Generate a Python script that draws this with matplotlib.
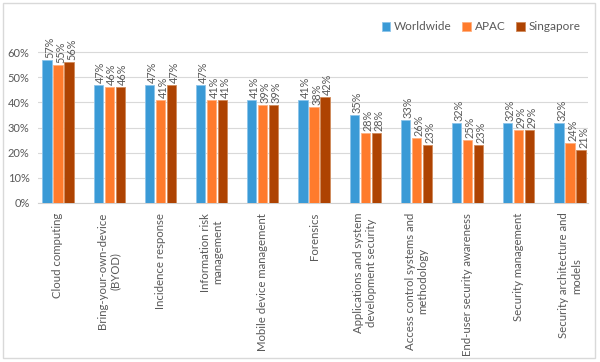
import matplotlib
matplotlib.use('Agg')
import numpy as np
import matplotlib.pyplot as plt
from matplotlib.patches import Rectangle
from matplotlib.ticker import FuncFormatter

plt.rcParams['font.family'] = ['Lato', 'DejaVu Sans']

# data
categories = [
    'Cloud computing',
    'Bring-your-own-device\n(BYOD)',
    'Incidence response',
    'Information risk\nmanagement',
    'Mobile device management',
    'Forensics',
    'Applications and system\ndevelopment security',
    'Access control systems and\nmethodology',
    'End-user security awareness',
    'Security management',
    'Security architecture and\nmodels',
]
worldwide = [57, 47, 47, 47, 41, 41, 35, 33, 32, 32, 32]
apac = [55, 46, 41, 41, 39, 38, 28, 26, 25, 29, 24]
singapore = [56, 46, 47, 41, 39, 42, 28, 23, 23, 29, 21]
series_names = ['Worldwide', 'APAC', 'Singapore']
colors = ['#3A9AD6', '#FF7B2C', '#AE4302']
edges = ['#8CC4EA', '#FFB07F', '#D08A5A']

fig = plt.figure(figsize=(6, 3.62), dpi=100)
ax = fig.add_axes([38 / 600, 1 - 203 / 362, 550 / 600, (203 - 27) / 362])

x = np.arange(len(categories))
step = 0.215
width = 0.18
txt = '#595959'
for i, (name, vals) in enumerate(zip(series_names, [worldwide, apac, singapore])):
    pos = x + (i - 1) * step
    ax.bar(pos, vals, width, color=colors[i], edgecolor=edges[i],
           linewidth=0.6, label=name, zorder=3)
    for px, v in zip(pos, vals):
        ax.text(px + 0.05, v + 0.8, f'{v}%', rotation=90, ha='center', va='bottom',
                fontsize=7.8, color=txt, clip_on=False)

ax.set_ylim(0, 70)
ax.set_yticks(range(0, 61, 10))
ax.yaxis.set_major_formatter(FuncFormatter(lambda v, p: f'{int(v)}%'))
ax.set_xlim(-0.39, 10.35)
ax.set_xticks(x)
ax.set_xticklabels(categories, rotation=90, ha='center', va='top',
                   multialignment='center', fontsize=8.2, color=txt)
ax.tick_params(axis='y', length=0, labelsize=8, labelcolor=txt, pad=6)
ax.tick_params(axis='x', length=0, pad=7)
ax.grid(axis='y', color='#D9D9D9', linewidth=0.8, zorder=0)
for s in ['top', 'right', 'left']:
    ax.spines[s].set_visible(False)
ax.spines['bottom'].set_color('#D0D0D0')

ax.legend(loc='center', bbox_to_anchor=(481 / 600, 1 - 27 / 362),
          bbox_transform=fig.transFigure, ncol=3, frameon=False,
          fontsize=8.5, handlelength=0.75, handleheight=0.75, handletextpad=0.3,
          columnspacing=0.9, labelcolor=txt)

fig.patches.append(Rectangle((3 / 600, 1 - 358 / 362), 592 / 600, 355 / 362,
                             transform=fig.transFigure, fill=False,
                             edgecolor='#D9D9D9', linewidth=1))

fig.savefig('out.png', dpi=100)
